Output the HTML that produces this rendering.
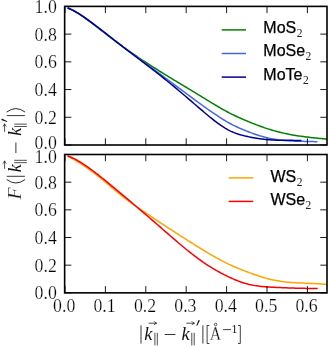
<!DOCTYPE html>
<html><head><meta charset="utf-8"><title>chart</title>
<style>html,body{margin:0;padding:0;background:#fff;}svg{display:block;will-change:transform}</style></head>
<body><svg width="329" height="347" viewBox="0 0 329 347"><rect width="329" height="347" fill="#fff"/><path d="M67.60,8.08 L69.10,8.69 L70.60,9.36 L72.10,10.09 L73.60,10.86 L75.10,11.69 L76.60,12.56 L78.10,13.48 L79.60,14.43 L81.10,15.41 L82.60,16.43 L84.10,17.47 L85.60,18.54 L87.10,19.62 L88.60,20.72 L90.10,21.83 L91.60,22.95 L93.10,24.07 L94.60,25.20 L96.10,26.34 L97.60,27.48 L99.10,28.63 L100.60,29.78 L102.10,30.93 L103.60,32.08 L105.10,33.23 L106.60,34.38 L108.10,35.53 L109.60,36.68 L111.10,37.82 L112.60,38.96 L114.10,40.10 L115.60,41.23 L117.10,42.36 L118.60,43.47 L120.10,44.58 L121.60,45.68 L123.10,46.77 L124.60,47.85 L126.10,48.93 L127.60,49.99 L129.10,51.05 L130.60,52.10 L132.10,53.15 L133.60,54.18 L135.10,55.21 L136.60,56.23 L138.10,57.25 L139.60,58.25 L141.10,59.25 L142.60,60.25 L144.10,61.24 L145.60,62.22 L147.10,63.20 L148.60,64.17 L150.10,65.14 L151.60,66.10 L153.10,67.05 L154.60,68.00 L156.10,68.95 L157.60,69.89 L159.10,70.83 L160.60,71.76 L162.10,72.69 L163.60,73.62 L165.10,74.54 L166.60,75.46 L168.10,76.38 L169.60,77.29 L171.10,78.20 L172.60,79.11 L174.10,80.02 L175.60,80.93 L177.10,81.83 L178.60,82.74 L180.10,83.64 L181.60,84.54 L183.10,85.45 L184.60,86.35 L186.10,87.25 L187.60,88.16 L189.10,89.06 L190.60,89.97 L192.10,90.87 L193.60,91.78 L195.10,92.69 L196.60,93.60 L198.10,94.52 L199.60,95.44 L201.10,96.36 L202.60,97.28 L204.10,98.20 L205.60,99.13 L207.10,100.05 L208.60,100.97 L210.10,101.89 L211.60,102.80 L213.10,103.71 L214.60,104.61 L216.10,105.51 L217.60,106.39 L219.10,107.27 L220.60,108.13 L222.10,108.99 L223.60,109.83 L225.10,110.66 L226.60,111.47 L228.10,112.27 L229.60,113.05 L231.10,113.81 L232.60,114.56 L234.10,115.29 L235.60,116.00 L237.10,116.70 L238.60,117.38 L240.10,118.05 L241.60,118.71 L243.10,119.36 L244.60,120.00 L246.10,120.63 L247.60,121.25 L249.10,121.87 L250.60,122.48 L252.10,123.08 L253.60,123.67 L255.10,124.26 L256.60,124.84 L258.10,125.41 L259.60,125.97 L261.10,126.52 L262.60,127.06 L264.10,127.59 L265.60,128.10 L267.10,128.61 L268.60,129.10 L270.10,129.57 L271.60,130.03 L273.10,130.47 L274.60,130.89 L276.10,131.31 L277.60,131.70 L279.10,132.08 L280.60,132.45 L282.10,132.80 L283.60,133.14 L285.10,133.47 L286.60,133.78 L288.10,134.08 L289.60,134.37 L291.10,134.65 L292.60,134.92 L294.10,135.18 L295.60,135.43 L297.10,135.67 L298.60,135.90 L300.10,136.12 L301.60,136.33 L303.10,136.54 L304.60,136.74 L306.10,136.93 L307.60,137.11 L309.10,137.29 L310.60,137.47 L312.10,137.64 L313.60,137.80 L315.10,137.96 L316.60,138.12 L318.10,138.27 L319.60,138.43 L321.10,138.58 L322.60,138.72 L324.10,138.87 L325.60,139.01 L327.00,139.15" fill="none" stroke="#008000" stroke-width="1.5" stroke-linejoin="round"/><path d="M67.60,7.88 L69.10,8.48 L70.60,9.15 L72.10,9.86 L73.60,10.63 L75.10,11.45 L76.60,12.32 L78.10,13.22 L79.60,14.16 L81.10,15.13 L82.60,16.14 L84.10,17.17 L85.60,18.23 L87.10,19.30 L88.60,20.39 L90.10,21.50 L91.60,22.61 L93.10,23.74 L94.60,24.87 L96.10,26.01 L97.60,27.15 L99.10,28.31 L100.60,29.46 L102.10,30.62 L103.60,31.79 L105.10,32.95 L106.60,34.12 L108.10,35.29 L109.60,36.46 L111.10,37.63 L112.60,38.80 L114.10,39.97 L115.60,41.13 L117.10,42.29 L118.60,43.45 L120.10,44.60 L121.60,45.74 L123.10,46.88 L124.60,48.02 L126.10,49.14 L127.60,50.27 L129.10,51.39 L130.60,52.51 L132.10,53.62 L133.60,54.73 L135.10,55.83 L136.60,56.94 L138.10,58.04 L139.60,59.14 L141.10,60.24 L142.60,61.33 L144.10,62.43 L145.60,63.52 L147.10,64.61 L148.60,65.71 L150.10,66.80 L151.60,67.89 L153.10,68.98 L154.60,70.08 L156.10,71.17 L157.60,72.27 L159.10,73.37 L160.60,74.47 L162.10,75.58 L163.60,76.68 L165.10,77.79 L166.60,78.90 L168.10,80.01 L169.60,81.12 L171.10,82.23 L172.60,83.35 L174.10,84.46 L175.60,85.58 L177.10,86.69 L178.60,87.81 L180.10,88.92 L181.60,90.04 L183.10,91.15 L184.60,92.26 L186.10,93.38 L187.60,94.49 L189.10,95.60 L190.60,96.71 L192.10,97.82 L193.60,98.92 L195.10,100.03 L196.60,101.13 L198.10,102.23 L199.60,103.33 L201.10,104.42 L202.60,105.51 L204.10,106.60 L205.60,107.68 L207.10,108.75 L208.60,109.81 L210.10,110.87 L211.60,111.91 L213.10,112.95 L214.60,113.97 L216.10,114.97 L217.60,115.96 L219.10,116.94 L220.60,117.90 L222.10,118.84 L223.60,119.76 L225.10,120.66 L226.60,121.53 L228.10,122.39 L229.60,123.22 L231.10,124.02 L232.60,124.80 L234.10,125.56 L235.60,126.29 L237.10,127.01 L238.60,127.70 L240.10,128.37 L241.60,129.02 L243.10,129.66 L244.60,130.27 L246.10,130.88 L247.60,131.47 L249.10,132.04 L250.60,132.60 L252.10,133.15 L253.60,133.68 L255.10,134.21 L256.60,134.71 L258.10,135.20 L259.60,135.68 L261.10,136.13 L262.60,136.57 L264.10,136.99 L265.60,137.39 L267.10,137.77 L268.60,138.12 L270.10,138.46 L271.60,138.77 L273.10,139.06 L274.60,139.32 L276.10,139.56 L277.60,139.78 L279.10,139.98 L280.60,140.16 L282.10,140.32 L283.60,140.47 L285.10,140.60 L286.60,140.71 L288.10,140.82 L289.60,140.91 L291.10,140.99 L292.60,141.06 L294.10,141.12 L295.60,141.17 L297.10,141.22 L298.60,141.26 L300.10,141.29 L301.60,141.33 L303.10,141.36 L304.60,141.39 L306.10,141.42 L307.60,141.45 L309.10,141.49 L310.60,141.53 L312.10,141.57 L313.60,141.62 L315.10,141.67 L316.60,141.74 L317.40,141.78" fill="none" stroke="#4169e1" stroke-width="1.5" stroke-linejoin="round"/><path d="M67.60,7.87 L69.10,8.49 L70.60,9.16 L72.10,9.88 L73.60,10.65 L75.10,11.47 L76.60,12.33 L78.10,13.23 L79.60,14.17 L81.10,15.14 L82.60,16.14 L84.10,17.17 L85.60,18.22 L87.10,19.29 L88.60,20.37 L90.10,21.47 L91.60,22.58 L93.10,23.71 L94.60,24.84 L96.10,25.98 L97.60,27.12 L99.10,28.28 L100.60,29.44 L102.10,30.60 L103.60,31.77 L105.10,32.94 L106.60,34.12 L108.10,35.29 L109.60,36.47 L111.10,37.65 L112.60,38.83 L114.10,40.01 L115.60,41.18 L117.10,42.35 L118.60,43.52 L120.10,44.68 L121.60,45.84 L123.10,47.00 L124.60,48.15 L126.10,49.29 L127.60,50.44 L129.10,51.58 L130.60,52.71 L132.10,53.85 L133.60,54.98 L135.10,56.12 L136.60,57.25 L138.10,58.38 L139.60,59.52 L141.10,60.65 L142.60,61.79 L144.10,62.92 L145.60,64.06 L147.10,65.21 L148.60,66.35 L150.10,67.50 L151.60,68.66 L153.10,69.81 L154.60,70.98 L156.10,72.15 L157.60,73.32 L159.10,74.51 L160.60,75.70 L162.10,76.89 L163.60,78.10 L165.10,79.31 L166.60,80.52 L168.10,81.74 L169.60,82.97 L171.10,84.21 L172.60,85.45 L174.10,86.69 L175.60,87.94 L177.10,89.19 L178.60,90.45 L180.10,91.71 L181.60,92.98 L183.10,94.25 L184.60,95.52 L186.10,96.79 L187.60,98.07 L189.10,99.35 L190.60,100.63 L192.10,101.92 L193.60,103.20 L195.10,104.49 L196.60,105.77 L198.10,107.06 L199.60,108.35 L201.10,109.63 L202.60,110.92 L204.10,112.20 L205.60,113.47 L207.10,114.73 L208.60,115.98 L210.10,117.22 L211.60,118.43 L213.10,119.63 L214.60,120.80 L216.10,121.94 L217.60,123.06 L219.10,124.14 L220.60,125.18 L222.10,126.19 L223.60,127.16 L225.10,128.09 L226.60,128.97 L228.10,129.80 L229.60,130.58 L231.10,131.31 L232.60,131.98 L234.10,132.61 L235.60,133.19 L237.10,133.72 L238.60,134.22 L240.10,134.68 L241.60,135.11 L243.10,135.51 L244.60,135.88 L246.10,136.23 L247.60,136.56 L249.10,136.87 L250.60,137.17 L252.10,137.46 L253.60,137.73 L255.10,138.00 L256.60,138.25 L258.10,138.48 L259.60,138.71 L261.10,138.91 L262.60,139.11 L264.10,139.29 L265.60,139.46 L267.10,139.61 L268.60,139.74 L270.10,139.86 L271.60,139.96 L273.10,140.05 L274.60,140.12 L276.10,140.18 L277.60,140.22 L279.10,140.25 L280.60,140.28 L282.10,140.30 L283.60,140.31 L285.10,140.32 L286.60,140.32 L288.10,140.33 L289.60,140.33 L291.10,140.34 L292.60,140.36 L294.10,140.38 L295.60,140.40 L297.10,140.44 L298.60,140.49 L300.10,140.55 L301.40,140.61" fill="none" stroke="#00008b" stroke-width="1.5" stroke-linejoin="round"/><path d="M65.00,145.0 v-6.7 M65.00,6.4 v6.7 M105.40,145.0 v-6.7 M105.40,6.4 v6.7 M145.80,145.0 v-6.7 M145.80,6.4 v6.7 M186.20,145.0 v-6.7 M186.20,6.4 v6.7 M226.60,145.0 v-6.7 M226.60,6.4 v6.7 M267.00,145.0 v-6.7 M267.00,6.4 v6.7 M307.40,145.0 v-6.7 M307.40,6.4 v6.7 M64.65,145.00 h6.7 M327.0,145.00 h-6.7 M64.65,117.28 h6.7 M327.0,117.28 h-6.7 M64.65,89.56 h6.7 M327.0,89.56 h-6.7 M64.65,61.84 h6.7 M327.0,61.84 h-6.7 M64.65,34.12 h6.7 M327.0,34.12 h-6.7 M64.65,6.40 h6.7 M327.0,6.40 h-6.7" stroke="#000" stroke-width="0.9" fill="none"/><rect x="64.65" y="6.4" width="262.35" height="138.6" fill="none" stroke="#000" stroke-width="1.6"/><path d="M67.60,156.14 L69.10,156.92 L70.60,157.71 L72.10,158.52 L73.60,159.36 L75.10,160.21 L76.60,161.09 L78.10,161.99 L79.60,162.91 L81.10,163.85 L82.60,164.82 L84.10,165.81 L85.60,166.82 L87.10,167.86 L88.60,168.93 L90.10,170.02 L91.60,171.13 L93.10,172.27 L94.60,173.43 L96.10,174.61 L97.60,175.80 L99.10,177.01 L100.60,178.24 L102.10,179.48 L103.60,180.72 L105.10,181.97 L106.60,183.23 L108.10,184.49 L109.60,185.75 L111.10,187.01 L112.60,188.26 L114.10,189.51 L115.60,190.75 L117.10,191.98 L118.60,193.20 L120.10,194.41 L121.60,195.60 L123.10,196.77 L124.60,197.93 L126.10,199.08 L127.60,200.21 L129.10,201.33 L130.60,202.44 L132.10,203.54 L133.60,204.62 L135.10,205.70 L136.60,206.76 L138.10,207.81 L139.60,208.86 L141.10,209.90 L142.60,210.93 L144.10,211.95 L145.60,212.96 L147.10,213.97 L148.60,214.98 L150.10,215.98 L151.60,216.97 L153.10,217.96 L154.60,218.95 L156.10,219.94 L157.60,220.92 L159.10,221.91 L160.60,222.89 L162.10,223.87 L163.60,224.85 L165.10,225.83 L166.60,226.81 L168.10,227.79 L169.60,228.77 L171.10,229.74 L172.60,230.72 L174.10,231.69 L175.60,232.66 L177.10,233.63 L178.60,234.60 L180.10,235.56 L181.60,236.52 L183.10,237.49 L184.60,238.44 L186.10,239.40 L187.60,240.35 L189.10,241.30 L190.60,242.24 L192.10,243.19 L193.60,244.13 L195.10,245.06 L196.60,245.99 L198.10,246.92 L199.60,247.85 L201.10,248.76 L202.60,249.68 L204.10,250.59 L205.60,251.49 L207.10,252.39 L208.60,253.28 L210.10,254.16 L211.60,255.03 L213.10,255.90 L214.60,256.75 L216.10,257.59 L217.60,258.42 L219.10,259.24 L220.60,260.05 L222.10,260.84 L223.60,261.62 L225.10,262.38 L226.60,263.13 L228.10,263.86 L229.60,264.58 L231.10,265.27 L232.60,265.96 L234.10,266.62 L235.60,267.27 L237.10,267.90 L238.60,268.53 L240.10,269.14 L241.60,269.73 L243.10,270.32 L244.60,270.90 L246.10,271.47 L247.60,272.03 L249.10,272.59 L250.60,273.14 L252.10,273.68 L253.60,274.22 L255.10,274.75 L256.60,275.27 L258.10,275.78 L259.60,276.28 L261.10,276.76 L262.60,277.23 L264.10,277.68 L265.60,278.12 L267.10,278.53 L268.60,278.93 L270.10,279.31 L271.60,279.66 L273.10,279.99 L274.60,280.30 L276.10,280.58 L277.60,280.85 L279.10,281.09 L280.60,281.32 L282.10,281.52 L283.60,281.71 L285.10,281.89 L286.60,282.04 L288.10,282.19 L289.60,282.32 L291.10,282.44 L292.60,282.55 L294.10,282.65 L295.60,282.74 L297.10,282.82 L298.60,282.89 L300.10,282.96 L301.60,283.03 L303.10,283.09 L304.60,283.15 L306.10,283.21 L307.60,283.26 L309.10,283.32 L310.60,283.38 L312.10,283.44 L313.60,283.50 L315.10,283.57 L316.60,283.65 L318.10,283.73 L319.60,283.82 L321.10,283.91 L322.60,284.02 L324.10,284.14 L325.60,284.27 L327.00,284.40" fill="none" stroke="#ffa500" stroke-width="1.5" stroke-linejoin="round"/><path d="M67.60,155.87 L69.10,156.43 L70.60,157.04 L72.10,157.71 L73.60,158.43 L75.10,159.19 L76.60,160.00 L78.10,160.85 L79.60,161.74 L81.10,162.66 L82.60,163.62 L84.10,164.61 L85.60,165.62 L87.10,166.66 L88.60,167.73 L90.10,168.81 L91.60,169.90 L93.10,171.02 L94.60,172.15 L96.10,173.29 L97.60,174.44 L99.10,175.61 L100.60,176.79 L102.10,177.98 L103.60,179.19 L105.10,180.40 L106.60,181.61 L108.10,182.84 L109.60,184.08 L111.10,185.32 L112.60,186.56 L114.10,187.81 L115.60,189.06 L117.10,190.32 L118.60,191.58 L120.10,192.84 L121.60,194.10 L123.10,195.36 L124.60,196.63 L126.10,197.89 L127.60,199.16 L129.10,200.42 L130.60,201.69 L132.10,202.96 L133.60,204.23 L135.10,205.50 L136.60,206.77 L138.10,208.05 L139.60,209.32 L141.10,210.60 L142.60,211.88 L144.10,213.16 L145.60,214.44 L147.10,215.73 L148.60,217.01 L150.10,218.30 L151.60,219.59 L153.10,220.89 L154.60,222.18 L156.10,223.48 L157.60,224.78 L159.10,226.08 L160.60,227.39 L162.10,228.70 L163.60,230.01 L165.10,231.32 L166.60,232.63 L168.10,233.93 L169.60,235.24 L171.10,236.54 L172.60,237.85 L174.10,239.14 L175.60,240.43 L177.10,241.72 L178.60,242.99 L180.10,244.26 L181.60,245.52 L183.10,246.77 L184.60,248.01 L186.10,249.24 L187.60,250.46 L189.10,251.66 L190.60,252.85 L192.10,254.03 L193.60,255.19 L195.10,256.33 L196.60,257.46 L198.10,258.57 L199.60,259.65 L201.10,260.72 L202.60,261.77 L204.10,262.80 L205.60,263.81 L207.10,264.80 L208.60,265.77 L210.10,266.72 L211.60,267.65 L213.10,268.56 L214.60,269.46 L216.10,270.33 L217.60,271.18 L219.10,272.02 L220.60,272.84 L222.10,273.63 L223.60,274.41 L225.10,275.17 L226.60,275.91 L228.10,276.63 L229.60,277.34 L231.10,278.02 L232.60,278.69 L234.10,279.34 L235.60,279.96 L237.10,280.56 L238.60,281.14 L240.10,281.70 L241.60,282.22 L243.10,282.72 L244.60,283.20 L246.10,283.64 L247.60,284.05 L249.10,284.43 L250.60,284.77 L252.10,285.09 L253.60,285.37 L255.10,285.62 L256.60,285.85 L258.10,286.05 L259.60,286.23 L261.10,286.39 L262.60,286.54 L264.10,286.66 L265.60,286.78 L267.10,286.88 L268.60,286.97 L270.10,287.06 L271.60,287.14 L273.10,287.22 L274.60,287.30 L276.10,287.38 L277.60,287.45 L279.10,287.53 L280.60,287.60 L282.10,287.66 L283.60,287.73 L285.10,287.79 L286.60,287.85 L288.10,287.91 L289.60,287.97 L291.10,288.02 L292.60,288.07 L294.10,288.12 L295.60,288.16 L297.10,288.21 L298.60,288.24 L300.10,288.28 L301.60,288.31 L303.10,288.34 L304.60,288.37 L306.10,288.39 L307.60,288.41 L309.10,288.43 L310.60,288.44 L312.10,288.45 L313.60,288.46 L315.10,288.46 L316.60,288.46 L317.70,288.45" fill="none" stroke="#ff0000" stroke-width="1.5" stroke-linejoin="round"/><path d="M65.00,292.85 v-6.7 M65.00,154.5 v6.7 M105.40,292.85 v-6.7 M105.40,154.5 v6.7 M145.80,292.85 v-6.7 M145.80,154.5 v6.7 M186.20,292.85 v-6.7 M186.20,154.5 v6.7 M226.60,292.85 v-6.7 M226.60,154.5 v6.7 M267.00,292.85 v-6.7 M267.00,154.5 v6.7 M307.40,292.85 v-6.7 M307.40,154.5 v6.7 M64.65,292.85 h6.7 M327.0,292.85 h-6.7 M64.65,265.18 h6.7 M327.0,265.18 h-6.7 M64.65,237.51 h6.7 M327.0,237.51 h-6.7 M64.65,209.84 h6.7 M327.0,209.84 h-6.7 M64.65,182.17 h6.7 M327.0,182.17 h-6.7 M64.65,154.50 h6.7 M327.0,154.50 h-6.7" stroke="#000" stroke-width="0.9" fill="none"/><rect x="64.65" y="154.5" width="262.35" height="138.35000000000002" fill="none" stroke="#000" stroke-width="1.6"/><g font-family="Liberation Serif, serif" font-size="17.8" fill="#000" stroke="#fff" stroke-width="0.22"><text x="56.8" y="148.50" text-anchor="end">0.0</text><text x="56.8" y="123.88" text-anchor="end">0.2</text><text x="56.8" y="96.16" text-anchor="end">0.4</text><text x="56.8" y="68.44" text-anchor="end">0.6</text><text x="56.8" y="40.72" text-anchor="end">0.8</text><text x="56.8" y="13.10" text-anchor="end">1.0</text><text x="56.8" y="298.90" text-anchor="end">0.0</text><text x="56.8" y="271.78" text-anchor="end">0.2</text><text x="56.8" y="244.11" text-anchor="end">0.4</text><text x="56.8" y="216.44" text-anchor="end">0.6</text><text x="56.8" y="188.77" text-anchor="end">0.8</text><text x="56.8" y="162.80" text-anchor="end">1.0</text><text x="64.20" y="311.9" text-anchor="middle">0.0</text><text x="104.60" y="311.9" text-anchor="middle">0.1</text><text x="145.00" y="311.9" text-anchor="middle">0.2</text><text x="185.40" y="311.9" text-anchor="middle">0.3</text><text x="225.80" y="311.9" text-anchor="middle">0.4</text><text x="266.20" y="311.9" text-anchor="middle">0.5</text><text x="306.60" y="311.9" text-anchor="middle">0.6</text></g><g font-family="Liberation Sans, sans-serif" font-size="16" fill="#000" stroke="#000" stroke-width="0.25"><path d="M221.7,29.9 H246" stroke="#008000" stroke-width="1.5"/><text x="263.3" y="32.70">MoS<tspan font-family="Liberation Serif, serif" font-size="11.5" dy="3.9" dx="0.5" stroke="none" fill="#222">2</tspan></text><path d="M221.7,53.5 H246" stroke="#4169e1" stroke-width="1.5"/><text x="263.3" y="56.30">MoSe<tspan font-family="Liberation Serif, serif" font-size="11.5" dy="3.9" dx="0.5" stroke="none" fill="#222">2</tspan></text><path d="M221.7,77.1 H246" stroke="#00008b" stroke-width="1.5"/><text x="263.3" y="79.80">MoTe<tspan font-family="Liberation Serif, serif" font-size="11.5" dy="3.9" dx="0.5" stroke="none" fill="#222">2</tspan></text><path d="M228.7,177.9 H253.2" stroke="#ffa500" stroke-width="1.5"/><text x="270.4" y="181.60">WS<tspan font-family="Liberation Serif, serif" font-size="11.5" dy="3.9" dx="0.5" stroke="none" fill="#222">2</tspan></text><path d="M228.7,201.4 H253.2" stroke="#ff0000" stroke-width="1.5"/><text x="270.4" y="204.70">WSe<tspan font-family="Liberation Serif, serif" font-size="11.5" dy="3.9" dx="0.5" stroke="none" fill="#222">2</tspan></text></g><g font-family="Liberation Serif, serif" fill="#111" stroke="#111" stroke-width="0"><g transform="translate(140,339.2)"><path d="M1.0,-13.8 V4.3" stroke-width="0.85" fill="none"/><text x="4.2" y="0.6" font-size="18.3" font-style="italic">k</text><path d="M8.6,-16.0 H16.2 M14.0,-17.9 Q14.8,-16.5 16.8,-16.0 Q14.8,-15.5 14.0,-14.1" stroke-width="0.75" fill="none"/><path d="M14.9,-6.4 V6.2 M17.3,-6.4 V6.2" stroke-width="0.75" fill="none"/><path d="M24.7,-4.7 H35.4" stroke-width="0.85" fill="none"/><text x="41.4" y="0.6" font-size="18.3" font-style="italic">k</text><path d="M46.4,-16.0 H54.0 M51.8,-17.9 Q52.6,-16.5 54.6,-16.0 Q52.6,-15.5 51.8,-14.1" stroke-width="0.75" fill="none"/><path d="M51.8,-6.4 V6.2 M54.2,-6.4 V6.2" stroke-width="0.75" fill="none"/><path d="M59.9,-18.8 L57.1,-13.3 L56.4,-13.6 L58.5,-19.3 Z" stroke="none"/><path d="M62.9,-13.8 V4.3" stroke-width="0.85" fill="none"/><path d="M69.4,-13.7 H67.1 V4.3 H69.4" stroke-width="0.8" fill="none"/><text transform="translate(69.8,0.3) scale(0.86,1)" x="0" y="0" font-size="18.5" stroke="#fff" stroke-width="0.25">A</text><circle cx="75.6" cy="-14.7" r="1.25" fill="none" stroke-width="0.7"/><path d="M83.1,-9.6 H91.0" stroke-width="0.8" fill="none"/><text x="91.6" y="-6.7" font-size="11.8">1</text><path d="M98.0,-13.7 H100.3 V4.3 H98.0" stroke-width="0.8" fill="none"/></g><g transform="translate(20.6,177.9) rotate(-90)"><text transform="translate(-21.6,0) scale(1.08,1)" x="0" y="0" font-size="18.5" font-style="italic" stroke="#fff" stroke-width="0.2">F</text><path d="M-1.6,-13.9 Q-8.6,-4.7 -1.6,4.5" stroke-width="0.9" fill="none"/><g transform="translate(0.62,0) scale(0.9806,1)"><path d="M1.0,-13.8 V4.3" stroke-width="0.85" fill="none"/><text x="5.1000000000000005" y="0.6" font-size="18.3" font-style="italic">k</text><path d="M8.6,-16.0 H16.2 M14.0,-17.9 Q14.8,-16.5 16.8,-16.0 Q14.8,-15.5 14.0,-14.1" stroke-width="0.75" fill="none"/><path d="M14.9,-6.4 V6.2 M17.3,-6.4 V6.2" stroke-width="0.75" fill="none"/><path d="M24.7,-4.7 H35.4" stroke-width="0.85" fill="none"/><text x="42.3" y="0.6" font-size="18.3" font-style="italic">k</text><path d="M46.4,-16.0 H54.0 M51.8,-17.9 Q52.6,-16.5 54.6,-16.0 Q52.6,-15.5 51.8,-14.1" stroke-width="0.75" fill="none"/><path d="M51.8,-6.4 V6.2 M54.2,-6.4 V6.2" stroke-width="0.75" fill="none"/><path d="M59.9,-18.8 L57.1,-13.3 L56.4,-13.6 L58.5,-19.3 Z" stroke="none"/><path d="M62.9,-13.8 V4.3" stroke-width="0.85" fill="none"/></g><path d="M65.8,-13.9 Q72.8,-4.7 65.8,4.5" stroke-width="0.9" fill="none"/></g></g></svg></body></html>
